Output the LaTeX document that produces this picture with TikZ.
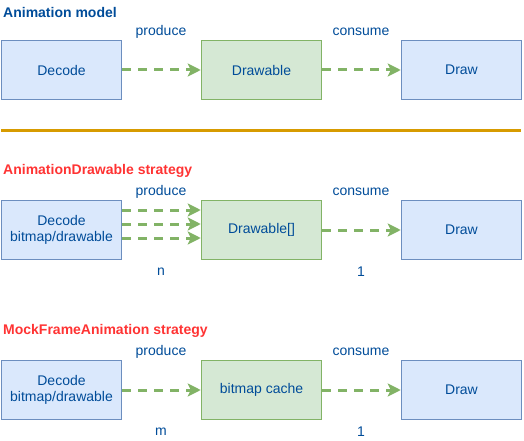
\documentclass[tikz,border=0pt]{standalone}
\usepackage{fontspec}
\setmainfont{Liberation Sans}
\usetikzlibrary{arrows.meta}
\definecolor{textblue}{HTML}{004C99}
\definecolor{titlered}{HTML}{FF3333}
\definecolor{bluefill}{HTML}{DAE8FC}
\definecolor{bluedraw}{HTML}{6C8EBF}
\definecolor{greenfill}{HTML}{D5E8D4}
\definecolor{greendraw}{HTML}{82B366}
\definecolor{rulecolor}{HTML}{D79B00}

\begin{document}
\begin{tikzpicture}[x=1pt,y=-1pt,
		font=\fontsize{14}{16}\selectfont,
		bluebox/.style={draw=bluedraw,fill=bluefill,line width=1.5pt,minimum width=120pt,minimum height=59pt,align=center,text=textblue,inner sep=0pt},
		greenbox/.style={draw=greendraw,fill=greenfill,line width=1.5pt,minimum width=120pt,minimum height=59pt,align=center,text=textblue,inner sep=0pt},
		flow/.style={draw=greendraw,line width=3pt,dash pattern=on 9pt off 7pt,-{Stealth[length=13pt,width=13pt,inset=3pt,fill=greendraw]}},
		lbl/.style={text=textblue,inner sep=0pt},
		heading/.style={font=\fontsize{14}{16}\selectfont\bfseries,anchor=west,inner sep=0pt}]
		\useasboundingbox (0,0) rectangle (524,441);
		% Animation model
		\node[heading,text=textblue] (titleA) at (3,12) {Animation model};
		\node[bluebox] (decA) at (61.5,70) {Decode};
		\node[greenbox] (drawableA) at (261.5,70) {Drawable};
		\node[bluebox] (drawA) at (461.5,70) {Draw};
		\node[lbl] (prodA) at (161,32) {produce};
		\node[lbl] (consA) at (361,32) {consume};
		\draw[flow] (decA) -- (drawableA);
		\draw[flow] (drawableA) -- (drawA);
		% separator
		\coordinate (ruleL) at (1,130.5);
		\coordinate (ruleR) at (521,130.5);
		\draw[rulecolor,line width=3pt] (ruleL) -- (ruleR);
		% AnimationDrawable strategy
		\node[heading,text=titlered] (titleB) at (3,171) {AnimationDrawable strategy};
		\node[bluebox] (decB) at (61.5,230) {Decode\\bitmap/drawable};
		\node[greenbox] (drawableB) at (261.5,230) {Drawable[]};
		\node[bluebox] (drawB) at (461.5,230) {Draw};
		\node[lbl] (prodB) at (161,192) {produce};
		\node[lbl] (consB) at (361,192) {consume};
		\node[lbl] (nB) at (161,272) {n};
		\node[lbl] (oneB) at (361,272) {1};
		\foreach \dy in {-8,6,20}
			\draw[flow] ([yshift=\dy]decB.east) -- ([yshift=\dy]drawableB.west);
		\draw[flow] (drawableB) -- (drawB);
		% MockFrameAnimation strategy
		\node[heading,text=titlered] (titleC) at (3,331) {MockFrameAnimation strategy};
		\node[bluebox] (decC) at (61.5,390) {Decode\\bitmap/drawable};
		\node[greenbox] (cacheC) at (261.5,390) {bitmap cache};
		\node[bluebox] (drawC) at (461.5,390) {Draw};
		\node[lbl] (prodC) at (161,352) {produce};
		\node[lbl] (consC) at (361,352) {consume};
		\node[lbl] (mC) at (161,432) {m};
		\node[lbl] (oneC) at (361,432) {1};
		\draw[flow] (decC) -- (cacheC);
		\draw[flow] (cacheC) -- (drawC);
	\end{tikzpicture}
\end{document}
